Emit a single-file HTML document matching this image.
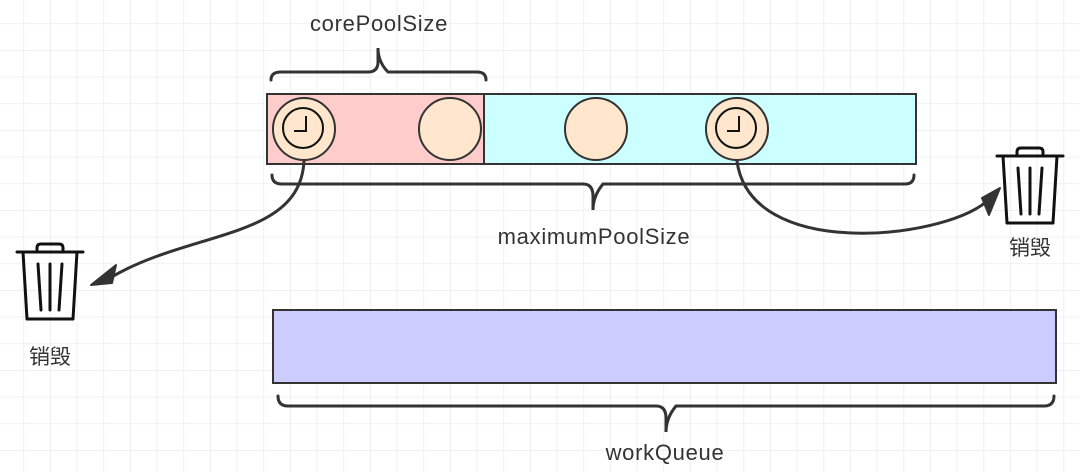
<!DOCTYPE html>
<html><head><style>
html,body{margin:0;padding:0;background:#fff;}
svg{display:block;}
text{font-family:"Liberation Sans","Noto Sans CJK SC",sans-serif;fill:#333;}
</style></head><body>
<svg width="1080" height="472" viewBox="0 0 1080 472" xmlns="http://www.w3.org/2000/svg">
<defs>
<pattern id="g" x="23.3" y="23.3" width="26.67" height="26.67" patternUnits="userSpaceOnUse">
<path d="M0 0H26.67M0 0V26.67" stroke="#ebebeb" stroke-width="1.5" fill="none"/>
</pattern>
<g id="trash" fill="none" stroke="#111" stroke-width="3" stroke-linejoin="round" stroke-linecap="round">
<path d="M0 8H66"/>
<path d="M20 8V4Q20 0 24 0H42Q46 0 46 4V8"/>
<path d="M6 8L10 75H56L60 8"/>
<path d="M21 20L24 66M33 20V66M45 20L42 66"/>
</g>
<g id="clock" fill="none" stroke="#111" stroke-width="2">
<circle r="20"/><path d="M3 -12V3H-9"/>
</g>
</defs>
<rect width="1080" height="472" fill="url(#g)"/>
<rect x="267" y="94" width="217" height="70" fill="#ffcccc" stroke="#333" stroke-width="2"/>
<rect x="484" y="94" width="432" height="70" fill="#ccffff" stroke="#333" stroke-width="2"/>
<g fill="#ffe6cc" stroke="#333" stroke-width="2">
<circle cx="304" cy="129" r="31"/><circle cx="450" cy="129" r="31"/>
<circle cx="596" cy="129" r="31"/><circle cx="737" cy="129" r="31"/>
</g>
<use href="#clock" x="303" y="128"/>
<use href="#clock" x="736" y="128"/>
<g fill="none" stroke="#333" stroke-width="3" stroke-linecap="round">
<path d="M271 80Q271 72 281 72H368Q378 72 378 62V48Q378 62 388 72H477Q486 72 486 80"/>
<path d="M272 175Q272 184 282 184H583Q593 184 593 196V210Q593 196 603 184H905Q914 184 914 175"/>
<path d="M278 396Q278 406 288 406H656Q666 406 666 418V432Q666 418 676 406H1044Q1054 406 1054 396"/>
<path d="M304 161C300 240 190 230 110 278"/>
<path d="M737 161C750 260 940 240 986 202"/>
</g>
<path d="M91 285L116 265L112 283Z" fill="#333" stroke="#333" stroke-width="2" stroke-linejoin="round"/>
<path d="M1000 188L989 215L982 198Z" fill="#333" stroke="#333" stroke-width="2" stroke-linejoin="round"/>
<rect x="273" y="310" width="783" height="73" fill="#ccccff" stroke="#333" stroke-width="2"/>
<use href="#trash" x="17" y="244"/>
<use href="#trash" x="997" y="148"/>
<g font-size="22" letter-spacing="0.7" text-anchor="middle">
<text x="379" y="31">corePoolSize</text>
<text x="594" y="244">maximumPoolSize</text>
<text x="665" y="460">workQueue</text>
</g>
<text x="50" y="364" font-size="21" text-anchor="middle">销毁</text>
<text x="1030" y="255" font-size="21" text-anchor="middle">销毁</text>
</svg>
</body></html>
